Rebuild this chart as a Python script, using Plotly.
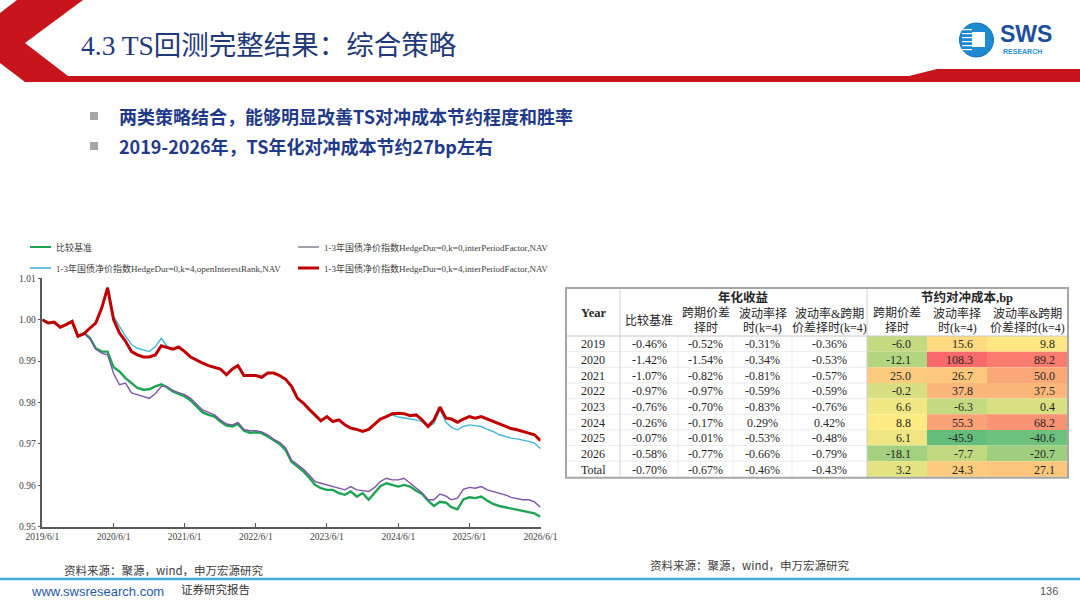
import plotly.graph_objects as go
import pandas as pd

W, H = 1080, 608

# ---------------- data ----------------
dates = pd.date_range("2019-06-01", "2026-06-01", freq="MS")

bench = [1.0000,0.9992,0.9994,0.9982,0.9988,0.9996,0.9960,0.9968,0.9956,0.9931,
         0.9923,0.9923,0.9885,0.9875,0.9859,0.9847,0.9835,0.9831,0.9832,0.9839,
         0.9844,0.9837,0.9827,0.9821,0.9815,0.9805,0.9790,0.9776,0.9770,0.9766,
         0.9754,0.9744,0.9742,0.9748,0.9732,0.9727,0.9728,0.9726,0.9718,0.9708,
         0.9700,0.9685,0.9657,0.9645,0.9633,0.9619,0.9601,0.9593,0.9589,0.9589,
         0.9581,0.9577,0.9585,0.9573,0.9581,0.9565,0.9582,0.9598,0.9605,0.9601,
         0.9597,0.9601,0.9597,0.9587,0.9579,0.9563,0.9550,0.9560,0.9558,0.9547,
         0.9542,0.9566,0.9571,0.9569,0.9573,0.9563,0.9555,0.9550,0.9547,0.9544,
         0.9542,0.9539,0.9536,0.9532,0.9524]

k0_inter = [1.0000,0.9992,0.9994,0.9982,0.9988,0.9996,0.9960,0.9968,0.9953,0.9929,
            0.9919,0.9915,0.9870,0.9843,0.9847,0.9823,0.9819,0.9815,0.9810,0.9821,
            0.9839,0.9839,0.9829,0.9824,0.9819,0.9810,0.9797,0.9782,0.9776,0.9770,
            0.9758,0.9748,0.9746,0.9752,0.9735,0.9732,0.9732,0.9729,0.9722,0.9711,
            0.9704,0.9690,0.9661,0.9649,0.9639,0.9625,0.9609,0.9605,0.9601,0.9597,
            0.9593,0.9589,0.9597,0.9589,0.9587,0.9585,0.9595,0.9609,0.9617,0.9613,
            0.9613,0.9617,0.9605,0.9593,0.9582,0.9565,0.9565,0.9579,0.9574,0.9565,
            0.9569,0.9590,0.9595,0.9593,0.9597,0.9589,0.9585,0.9582,0.9577,0.9571,
            0.9568,0.9565,0.9565,0.9560,0.9547]

k4_oi = [1.0000,0.9992,0.9994,0.9982,0.9988,0.9996,0.9960,0.9966,0.9980,0.9992,
         1.0028,1.0079,1.0008,0.9984,0.9960,0.9940,0.9931,0.9927,0.9923,0.9935,
         0.9955,0.9936,0.9929,0.9934,0.9923,0.9910,0.9902,0.9895,0.9889,0.9885,
         0.9881,0.9867,0.9881,0.9889,0.9865,0.9865,0.9865,0.9861,0.9871,0.9871,
         0.9865,0.9856,0.9839,0.9810,0.9798,0.9784,0.9770,0.9756,0.9766,0.9754,
         0.9758,0.9746,0.9738,0.9735,0.9730,0.9735,0.9748,0.9760,0.9766,0.9770,
         0.9765,0.9762,0.9760,0.9758,0.9754,0.9740,0.9750,0.9782,0.9752,0.9740,
         0.9734,0.9742,0.9746,0.9744,0.9742,0.9735,0.9730,0.9722,0.9718,0.9714,
         0.9712,0.9710,0.9706,0.9702,0.9688]

k4_inter = [1.0000,0.9992,0.9994,0.9982,0.9988,0.9996,0.9960,0.9966,0.9980,0.9992,
            1.0028,1.0077,1.0000,0.9968,0.9948,0.9923,0.9915,0.9910,0.9910,0.9915,
            0.9937,0.9934,0.9929,0.9934,0.9923,0.9910,0.9902,0.9895,0.9889,0.9885,
            0.9881,0.9867,0.9881,0.9889,0.9865,0.9865,0.9865,0.9861,0.9871,0.9871,
            0.9865,0.9856,0.9839,0.9810,0.9798,0.9784,0.9770,0.9756,0.9766,0.9754,
            0.9758,0.9746,0.9738,0.9735,0.9730,0.9735,0.9748,0.9760,0.9766,0.9773,
            0.9774,0.9773,0.9768,0.9770,0.9758,0.9742,0.9758,0.9789,0.9762,0.9760,
            0.9752,0.9760,0.9766,0.9762,0.9766,0.9760,0.9754,0.9748,0.9742,0.9737,
            0.9734,0.9731,0.9726,0.9722,0.9708]

series_names = ["比较基准",
                "1-3年国债净价指数HedgeDur=0,k=0,interPeriodFactor,NAV",
                "1-3年国债净价指数HedgeDur=0,k=4,openInterestRank,NAV",
                "1-3年国债净价指数HedgeDur=0,k=4,interPeriodFactor,NAV"]

x_tick_dates = ["2019-06-01","2020-06-01","2021-06-01","2022-06-01",
                "2023-06-01","2024-06-01","2025-06-01","2026-06-01"]
x_tick_text = ["2019/6/1","2020/6/1","2021/6/1","2022/6/1",
               "2023/6/1","2024/6/1","2025/6/1","2026/6/1"]
y_ticks = [0.95, 0.96, 0.97, 0.98, 0.99, 1.00, 1.01]

# table data
years = ["2019","2020","2021","2022","2023","2024","2025","2026","Total"]
ret_bench = [-0.46,-1.42,-1.07,-0.97,-0.76,-0.26,-0.07,-0.58,-0.70]
ret_spread = [-0.52,-1.54,-0.82,-0.97,-0.70,-0.17,-0.01,-0.77,-0.67]
ret_vol = [-0.31,-0.34,-0.81,-0.59,-0.83,0.29,-0.53,-0.66,-0.46]
ret_volspread = [-0.36,-0.53,-0.57,-0.59,-0.76,0.42,-0.48,-0.79,-0.43]
save_spread = [-6.0,-12.1,25.0,-0.2,6.6,8.8,6.1,-18.1,3.2]
save_vol = [15.6,108.3,26.7,37.8,-6.3,55.3,-45.9,-7.7,24.3]
save_volspread = [9.8,89.2,50.0,37.5,0.4,68.2,-40.6,-20.7,27.1]

ret_headers = [["比较基准"], ["跨期价差", "择时"], ["波动率择", "时(k=4)"], ["波动率&跨期", "价差择时(k=4)"]]
save_headers = [["跨期价差", "择时"], ["波动率择", "时(k=4)"], ["波动率&跨期", "价差择时(k=4)"]]

# ---------------- helpers ----------------
def X(px):
    return px / W

def Y(py):
    return 1 - py / H

SERIF = "Liberation Serif, Noto Sans CJK SC, serif"
SANS_CJK = "Noto Sans CJK SC, Liberation Sans, sans-serif"

fig = go.Figure()

line_styles = [
    dict(color="#1BA552", width=2.4),
    dict(color="#7E55A6", width=1.4),
    dict(color="#3FB7DA", width=1.4),
    dict(color="#C00000", width=3.0),
]
for vals, name, ls in zip([bench, k0_inter, k4_oi, k4_inter], series_names, line_styles):
    fig.add_trace(go.Scatter(x=dates, y=vals, mode="lines", name=name, line=ls,
                             showlegend=False))

shapes = []
ann = []


def A(px, py, text, anchor="left", font=None, yanchor="middle"):
    ann.append(dict(x=X(px), y=Y(py), xref="paper", yref="paper", text=text,
                    xanchor=anchor, yanchor=yanchor, showarrow=False, font=font))

# ---------------- header ----------------
red = "#C8141B"
pts = [(17, 0), (83, 0), (25, 43), (68, 76), (909, 76), (937, 69), (1080, 69),
       (1080, 82), (25, 82), (0, 63), (0, 13)]
path = "M " + " L ".join(f"{X(a):.5f},{Y(b):.5f}" for a, b in pts) + " Z"
shapes.append(dict(type="path", path=path, xref="paper", yref="paper",
                   fillcolor=red, line=dict(width=0), layer="above"))

A(79, 45, "4.3 TS回测完整结果：综合策略", font=dict(family=SERIF, size=27.5, color="#1F3A7A"))

# logo
shapes.append(dict(type="circle", xref="paper", yref="paper",
                   x0=X(959.5), x1=X(993.5), y0=Y(57), y1=Y(23),
                   fillcolor="#1E8AD2", line=dict(color="#1570B8", width=1)))
for sy in [29, 33, 37, 41, 45, 49]:
    shapes.append(dict(type="rect", xref="paper", yref="paper",
                       x0=X(962), x1=X(972), y0=Y(sy + 1.2), y1=Y(sy),
                       fillcolor="white", line=dict(width=0)))
shapes.append(dict(type="rect", xref="paper", yref="paper",
                   x0=X(972), x1=X(985), y0=Y(47), y1=Y(32),
                   fillcolor="white", line=dict(width=0)))
A(998, 48.5, "<b>SWS</b>", yanchor="bottom",
  font=dict(family="Liberation Sans, Arial", size=23, color="#1C4F9C"))
A(1001, 45.5, "<b>RESEARCH</b>", yanchor="top",
  font=dict(family="Liberation Sans, Arial", size=7, color="#2A8FD0"))

# bullets
for by, txt in [(116, "两类策略结合，能够明显改善TS对冲成本节约程度和胜率"),
                (146, "2019-2026年，TS年化对冲成本节约27bp左右")]:
    shapes.append(dict(type="rect", xref="paper", yref="paper",
                       x0=X(90), x1=X(98), y0=Y(by + 4), y1=Y(by - 4),
                       fillcolor="#A6A6A6", line=dict(width=0)))
    A(117, by, f"<b>{txt}</b>", font=dict(family=SANS_CJK, size=18, color="#1F3A8A"))

# ---------------- chart legend ----------------
leg = [(30, 247, 0), (298, 247, 1), (30, 268, 2), (298, 268, 3)]
leg_colors = ["#1BA552", "#8E8A98", "#3FB7DA", "#C00000"]
leg_widths = [2, 1.6, 1.6, 3]
for lx, ly, k in leg:
    shapes.append(dict(type="line", xref="paper", yref="paper",
                       x0=X(lx), x1=X(lx + 21), y0=Y(ly), y1=Y(ly),
                       line=dict(color=leg_colors[k], width=leg_widths[k])))
    A(lx + 24, ly, series_names[k], font=dict(family=SERIF, size=9, color="#404040"))

# ---------------- table ----------------
tx = [566, 620, 678, 733, 792, 867, 927, 987, 1067]
t_top, h_bot, row_h = 288, 336, 15.65
t_bot = h_bot + row_h * len(years)
num_font = dict(family=SERIF, size=12, color="#262626")


def heat(v, lo, mid, hi):
    g, yl, r = (99, 190, 123), (255, 235, 132), (248, 105, 107)
    if v <= mid:
        t = ((mid - v) / (mid - lo)) ** 0.75
        a, b = yl, g
    else:
        t = ((v - mid) / (hi - mid)) ** 0.75
        a, b = yl, r
    c = [round(a[i] + (b[i] - a[i]) * t) for i in range(3)]
    return f"rgb({c[0]},{c[1]},{c[2]})"

all_save = save_spread + save_vol + save_volspread
lo, hi = min(all_save), max(all_save)
mid = sorted(all_save)[len(all_save) // 2]

for ci, col in enumerate([save_spread, save_vol, save_volspread]):
    x0, x1 = tx[5 + ci], tx[6 + ci]
    for ri, v in enumerate(col):
        y0 = h_bot + ri * row_h
        shapes.append(dict(type="rect", xref="paper", yref="paper",
                           x0=X(x0), x1=X(x1), y0=Y(y0 + row_h), y1=Y(y0),
                           fillcolor=heat(v, lo, mid, hi), line=dict(width=0)))
        A(x1 - [14, 12, 10][ci], y0 + row_h / 2 + 0.5, f"{v:.1f}", anchor="right", font=num_font)

# grid lines
for ri in range(1, len(years)):
    yy = h_bot + ri * row_h
    shapes.append(dict(type="line", xref="paper", yref="paper", x0=X(566), x1=X(867),
                       y0=Y(yy), y1=Y(yy), line=dict(color="#E6E6E6", width=0.8)))
for vx in [678, 733, 792]:
    shapes.append(dict(type="line", xref="paper", yref="paper", x0=X(vx), x1=X(vx),
                       y0=Y(t_bot), y1=Y(h_bot), line=dict(color="#EBEBEB", width=0.8)))
for vx in [620, 867]:
    shapes.append(dict(type="line", xref="paper", yref="paper", x0=X(vx), x1=X(vx),
                       y0=Y(t_bot), y1=Y(t_top), line=dict(color="#D0D0D0", width=1)))
shapes.append(dict(type="line", xref="paper", yref="paper", x0=X(566), x1=X(1067),
                   y0=Y(h_bot), y1=Y(h_bot), line=dict(color="#C8C8C8", width=1)))
shapes.append(dict(type="rect", xref="paper", yref="paper", x0=X(566), x1=X(1068),
                   y0=Y(t_bot + 1), y1=Y(t_top), line=dict(color="#A6A6A6", width=2),
                   fillcolor="rgba(0,0,0,0)"))

# header texts
bold_font = dict(family=SERIF, size=12.5, color="#262626")
A(593, 313, "<b>Year</b>", anchor="center", font=bold_font)
A(743, 297, "<b>年化收益</b>", anchor="center", font=bold_font)
A(967, 297, "<b>节约对冲成本,bp</b>", anchor="center", font=bold_font)
hdr_font = dict(family=SERIF, size=12, color="#262626")
for ci, lines in enumerate(ret_headers + save_headers):
    cx = (tx[1 + ci] + tx[2 + ci]) / 2
    if len(lines) == 1:
        A(cx, 320, lines[0], anchor="center", font=hdr_font)
    else:
        for li, t in enumerate(lines):
            A(cx, 313 + li * 15, t, anchor="center", font=hdr_font)

# body text
for ri, yr in enumerate(years):
    yc = h_bot + ri * row_h + row_h / 2 + 0.5
    A(593, yc, yr, anchor="center", font=num_font)
    for ci, col in enumerate([ret_bench, ret_spread, ret_vol, ret_volspread]):
        cx = (tx[1 + ci] + tx[2 + ci]) / 2
        A(cx, yc, f"{col[ri]:.2f}%", anchor="center", font=num_font)

# ---------------- footer ----------------
src = "资料来源：聚源，wind，申万宏源研究"
A(62, 570, src, font=dict(family=SANS_CJK, size=11.5, color="#404040"))
A(648, 565, src, font=dict(family=SANS_CJK, size=11.5, color="#404040"))
shapes.append(dict(type="line", xref="paper", yref="paper", x0=0, x1=1,
                   y0=Y(579), y1=Y(579), line=dict(color="#46A9DC", width=2.5)))
A(29, 591, "www.swsresearch.com", font=dict(family="Liberation Sans, Arial", size=13, color="#1F5AA6"))
A(179, 589, "证券研究报告", font=dict(family=SANS_CJK, size=11.5, color="#333333"))
A(1060, 591, "136", anchor="right", font=dict(family="Liberation Sans, Arial", size=11, color="#555555"))

# ---------------- layout ----------------
fig.update_layout(
    width=W, height=H, autosize=False,
    margin=dict(l=0, r=0, t=0, b=0, pad=0),
    paper_bgcolor="white", plot_bgcolor="white",
    shapes=shapes, annotations=ann,
    xaxis=dict(domain=[X(42.3), X(540.5)], type="date",
               range=["2019-06-01", "2026-06-01"],
               tickvals=x_tick_dates, ticktext=x_tick_text,
               showgrid=False, zeroline=False, automargin=False,
               showline=True, linecolor="#595959", linewidth=1.5,
               ticks="inside", ticklen=4, tickcolor="#595959",
               tickfont=dict(family=SERIF, size=9.5, color="#404040")),
    yaxis=dict(domain=[Y(526.7), Y(278.3)], range=[0.95, 1.01],
               tickvals=y_ticks, tickformat=".2f",
               showgrid=False, zeroline=False, automargin=False,
               showline=True, linecolor="#595959", linewidth=1.5,
               ticks="outside", ticklen=3, tickcolor="#595959",
               tickfont=dict(family=SERIF, size=9.5, color="#404040")),
)

fig.write_html("out.html", config={"displayModeBar": False})

# remove the browser's default page margin so the figure sits at the window origin
with open("out.html", "r", encoding="utf-8") as f:
    html = f.read()
html = html.replace("<head>", "<head><style>html,body{margin:0;padding:0;overflow:hidden;}</style>", 1)
with open("out.html", "w", encoding="utf-8") as f:
    f.write(html)
